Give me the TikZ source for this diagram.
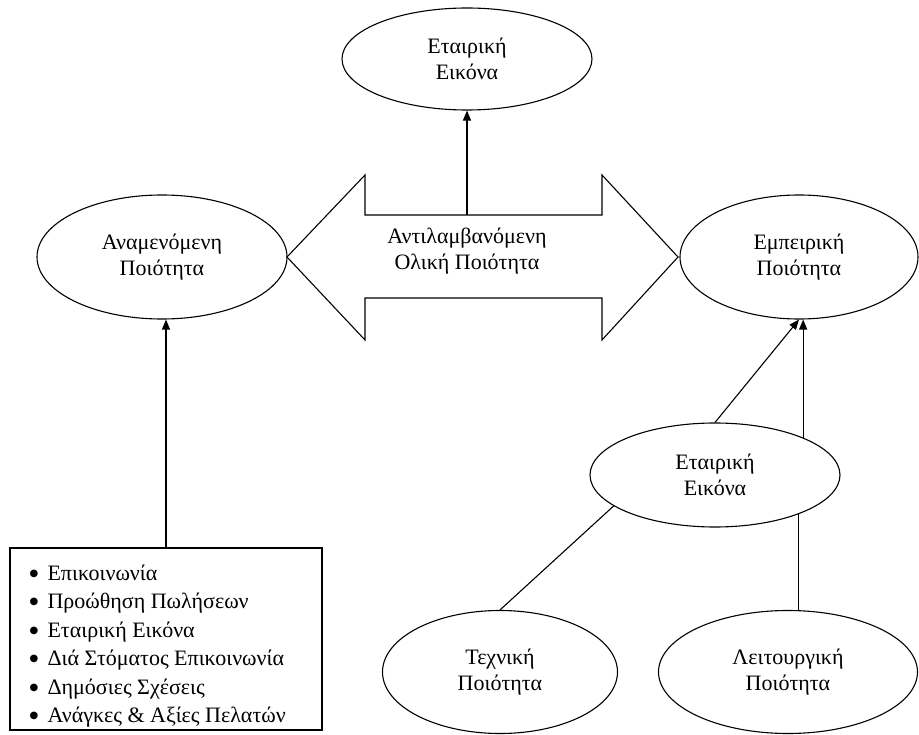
\documentclass[tikz,border=0pt]{standalone}
\usepackage{fontspec}
\setmainfont{Liberation Serif}
\newfontfamily\symfont{DejaVu Sans}
\usetikzlibrary{shapes.geometric,arrows.meta,calc}
\newcommand{\listdot}{\makebox[18pt][l]{\raisebox{0.18em}{\symfont\fontsize{10}{10}\selectfont ●}}}
\begin{document}
\begin{tikzpicture}[x=1pt,y=-1pt,
  line width=1.1pt,
  oval/.style={ellipse,draw,inner sep=0pt,align=center,
    font=\fontsize{22}{26.5}\selectfont},
  label text/.style={align=center,inner sep=0pt,
    font=\fontsize{22}{26.5}\selectfont},
  list text/.style={align=left,inner sep=0pt,
    font=\fontsize{22}{28.4}\selectfont},
  arr/.style={-{Triangle[length=10pt,width=8pt]}},
]
\fill[white] (0,0) rectangle (919,735);
\useasboundingbox (0,0) rectangle (919,735);

% ovals
\node[oval,minimum width=250pt,minimum height=102pt] (top)  at (467,59)  {Εταιρική\\Εικόνα};
\node[oval,minimum width=250pt,minimum height=124pt] (exp)  at (162,257) {Αναμενόμενη\\Ποιότητα};
\node[oval,minimum width=238pt,minimum height=124pt] (emp)  at (799,257) {Εμπειρική\\Ποιότητα};
\node[oval,minimum width=250pt,minimum height=104pt] (img)  at (715,475) {Εταιρική\\Εικόνα};
\node[oval,minimum width=235pt,minimum height=123pt] (tech) at (500,672) {Τεχνική\\Ποιότητα};
\node[oval,minimum width=259pt,minimum height=123pt] (func) at (788,672) {Λειτουργική\\Ποιότητα};

% two-headed block arrow
\draw (287,257) coordinate (ltip) -- (365,175) -- (365,215) -- (602,215) -- (602,175)
  -- (678,257) coordinate (rtip) -- (602,340) -- (602,298) -- (365,298) -- (365,340) -- cycle;
\coordinate (bodytop) at (467,215);
\node[label text] (perc) at (467,251) {Αντιλαμβανόμενη\\Ολική Ποιότητα};

% list box
\node[draw,minimum width=312pt,minimum height=182pt,inner sep=0pt] (box) at (166,639) {};
\node[list text,anchor=west] (items) at (29,646) {%
  \listdot Επικοινωνία\\
  \listdot Προώθηση Πωλήσεων\\
  \listdot Εταιρική Εικόνα\\
  \listdot Διά Στόματος Επικοινωνία\\
  \listdot Δημόσιες Σχέσεις\\
  \listdot Ανάγκες \& Αξίες Πελατών};

% connectors
\draw[arr] (bodytop) -- (top.south);
\draw[arr] (box.north) -- (box.north |- exp.south);
\draw[arr] (img.north) -- (emp.south);
\draw[arr] (img.23) -- (img.23 |- emp.south);
\draw (tech.north) -- (img.197);
\draw (func.north -| img.-25) -- (img.-25);
\end{tikzpicture}
\end{document}
